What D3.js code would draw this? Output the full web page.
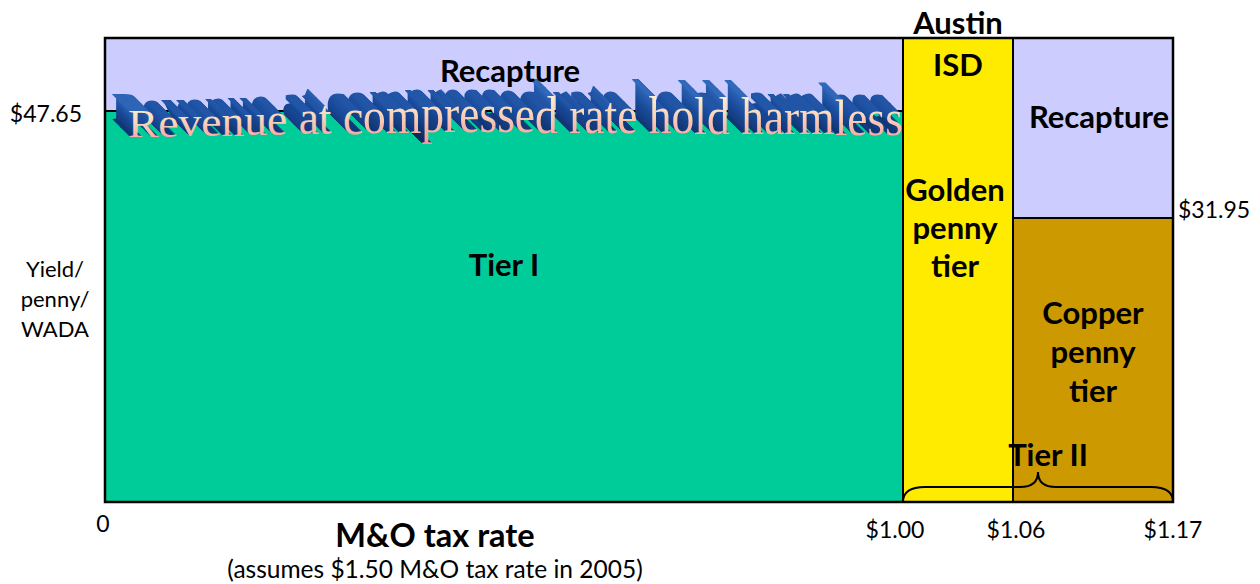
<!DOCTYPE html>
<html><head><meta charset="utf-8">
<script src="https://cdn.jsdelivr.net/npm/d3@7"></script>
<style>body{margin:0;background:#fff}svg{display:block}</style>
</head><body><svg id="c" width="1260" height="584"></svg>
<script>
// ---- data ----
const rateTicks = [0, 1.00, 1.06, 1.17];
const rateTickLabels = ["0", "$1.00", "$1.06", "$1.17"];
const yieldMarks = [31.95, 47.65];
const yieldMarkLabels = ["$31.95", "$47.65"];
const yieldTop = 56;
const regionNames = ["Recapture", "Tier I", "Golden penny tier", "Recapture", "Copper penny tier"];
const regionRateFrom = [0, 0, 1.00, 1.06, 1.06];
const regionRateTo = [1.00, 1.00, 1.06, 1.17, 1.17];
const regionYieldFrom = [47.65, 0, 0, 31.95, 0];
const regionYieldTo = [56, 47.65, 56, 56, 31.95];
const regionColors = ["#CCCCFF", "#00CC99", "#FFEB00", "#CCCCFF", "#CC9900"];
const wordArtText = "Revenue at compressed rate hold harmless";

// ---- scales ----
const x = d3.scaleLinear().domain(rateTicks).range([105, 903, 1013, 1173]);
const y = d3.scaleLinear().domain([0, yieldMarks[0], yieldMarks[1], yieldTop]).range([502, 218, 111, 38]);

const svg = d3.select("#c");
const SANS = "Lato, 'Open Sans', sans-serif";
const SERIF = "'Liberation Serif', 'Times New Roman', serif";
const defs = svg.append("defs");
const face = defs.append("linearGradient").attr("id", "face").attr("x1", 0).attr("y1", 0).attr("x2", 0).attr("y2", 1);
face.append("stop").attr("offset", "0").attr("stop-color", "#FFFAD2");
face.append("stop").attr("offset", "0.45").attr("stop-color", "#FCD8BC");
face.append("stop").attr("offset", "1").attr("stop-color", "#F2979A");
const ext = defs.append("linearGradient").attr("id", "extg").attr("x1", 0).attr("y1", 0).attr("x2", 0).attr("y2", 1);
ext.append("stop").attr("offset", "0").attr("stop-color", "#3F78CC");
ext.append("stop").attr("offset", "0.5").attr("stop-color", "#1A4C9C");
ext.append("stop").attr("offset", "1").attr("stop-color", "#0A295C");

// extrusion filter: stacked offsets of the source (farthest first)
const L = 18;
const filt = defs.append("filter").attr("id", "extrude")
  .attr("filterUnits", "userSpaceOnUse").attr("x", 0).attr("y", 0).attr("width", 1260).attr("height", 584);
for (let k = L; k >= 1; k--) {
  filt.append("feOffset").attr("in", "SourceGraphic").attr("dx", -k * 0.95).attr("dy", -k * 0.95).attr("result", "o" + k);
}
const merge = filt.append("feMerge");
for (let k = L; k >= 1; k--) merge.append("feMergeNode").attr("in", "o" + k);

const regions = regionNames.map((n, i) => ({name: n, x0: regionRateFrom[i], x1: regionRateTo[i], y0: regionYieldFrom[i], y1: regionYieldTo[i], c: regionColors[i]}));

function drawRegion(d) {
  svg.append("rect")
    .attr("x", x(d.x0)).attr("y", y(d.y1))
    .attr("width", x(d.x1) - x(d.x0)).attr("height", y(d.y0) - y(d.y1))
    .attr("fill", d.c).attr("stroke", "#000").attr("stroke-width", 2);
}
drawRegion(regions[0]);
drawRegion(regions[1]);

// ---- WordArt ----
const waG = svg.append("g");
const meas = waG.append("text").attr("font-family", SERIF).attr("font-size", 40).text(wordArtText);
const nC = wordArtText.length;
const starts = d3.range(nC).map(i => meas.node().getStartPositionOfChar(i).x);
const totalW = meas.node().getComputedTextLength();
meas.remove();
const waLeft = 128, waRight = x(1.00);
const sx = (waRight - waLeft) / totalW;
const sy = d3.scaleLinear().domain([128, 430, 903]).range([0.98, 1.36, 1.27]);
const base = d3.scaleLinear().domain([128, 450, 903]).range([137, 132, 135]);
const chars = d3.range(nC).map(i => ({ch: wordArtText[i], x: waLeft + starts[i] * sx})).filter(d => d.ch !== " ");

function drawChars(g, fill) {
  g.selectAll("text").data(chars).join("text")
    .attr("font-family", SERIF).attr("font-size", 40)
    .attr("transform", d => `translate(${d.x},${base(d.x)}) scale(${sx},${sy(d.x)})`)
    .attr("fill", fill)
    .text(d => d.ch);
}
drawChars(waG.append("g").attr("filter", "url(#extrude)"), "url(#extg)");
drawChars(waG.append("g"), "url(#face)");

drawRegion(regions[2]);
drawRegion(regions[3]);
drawRegion(regions[4]);

// frame
svg.append("rect").attr("x", x(0)).attr("y", y(yieldTop)).attr("width", x(1.17) - x(0)).attr("height", y(0) - y(yieldTop))
  .attr("fill", "none").attr("stroke", "#000").attr("stroke-width", 2.5);

// brace
const xl = x(1.00), xr = x(1.17), xm = (xl + xr) / 2, yb = y(0);
svg.append("path")
  .attr("d", `M${xl},${yb} Q${xl},${yb - 15} ${xl + 22},${yb - 15} L${xm - 18},${yb - 15} Q${xm},${yb - 15} ${xm},${yb - 30} Q${xm},${yb - 15} ${xm + 18},${yb - 15} L${xr - 22},${yb - 15} Q${xr},${yb - 15} ${xr},${yb}`)
  .attr("fill", "none").attr("stroke", "#000").attr("stroke-width", 2);

// ---- labels ----
function bold(txt, cx, by, size) {
  svg.append("text").attr("x", cx).attr("y", by).attr("text-anchor", "middle")
    .attr("font-family", SANS).attr("font-weight", 700).attr("font-size", size || 31).attr("fill", "#000").text(txt);
}
const cx = d => (x(d.x0) + x(d.x1)) / 2;
bold("Recapture", cx(regions[0]) + 6, 82);
bold("Tier I", cx(regions[1]), 276);
bold("Austin", cx(regions[2]), 34);
bold("ISD", cx(regions[2]), 76);
["Golden", "penny", "tier"].forEach((t, i) => bold(t, cx(regions[2]) - 3, 201 + i * 38));
bold("Recapture", cx(regions[3]) + 6, 128);
["Copper", "penny", "tier"].forEach((t, i) => bold(t, cx(regions[4]), 324 + i * 39));
bold("Tier II", xm + 10, 466);

// x ticks
const tickDx = [-2, -8, 3, 0];
svg.append("g").selectAll("text").data(rateTicks).join("text")
  .attr("x", (d, i) => x(d) + tickDx[i])
  .attr("y", (d, i) => i === 0 ? 532 : 538)
  .attr("text-anchor", "middle").attr("font-family", SANS).attr("font-size", 23).attr("fill", "#000")
  .text((d, i) => rateTickLabels[i]);

// y marks
svg.append("text").attr("x", 82).attr("y", y(yieldMarks[1]) + 11).attr("text-anchor", "end")
  .attr("font-family", SANS).attr("font-size", 23).text(yieldMarkLabels[1]);
svg.append("text").attr("x", x(1.17) + 5).attr("y", y(yieldMarks[0])).attr("text-anchor", "start")
  .attr("font-family", SANS).attr("font-size", 23).text(yieldMarkLabels[0]);

// y title
["Yield/", "penny/", "WADA"].forEach((t, i) =>
  svg.append("text").attr("x", 55).attr("y", 277 + i * 30).attr("text-anchor", "middle")
    .attr("font-family", SANS).attr("font-size", 22).text(t));

// x title
svg.append("text").attr("x", 435).attr("y", 547).attr("text-anchor", "middle")
  .attr("font-family", SANS).attr("font-weight", 700).attr("font-size", 32.5).text("M&O tax rate");
svg.append("text").attr("x", 435).attr("y", 578).attr("text-anchor", "middle")
  .attr("font-family", SANS).attr("font-size", 24.5).text("(assumes $1.50 M&O tax rate in 2005)");
</script></body></html>
